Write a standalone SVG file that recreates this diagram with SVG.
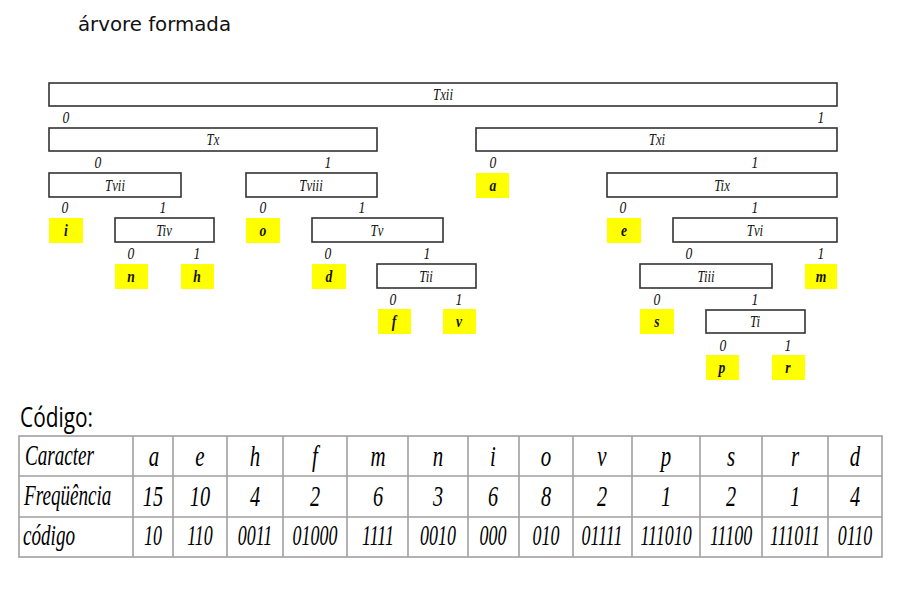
<svg xmlns="http://www.w3.org/2000/svg" width="913" height="606" viewBox="0 0 913 606">
<style>
.box{fill:#fff;stroke:#333;stroke-width:1.6}
.leaf{fill:#ffff00;stroke:none}
.t{font-family:"Liberation Serif",serif;font-style:italic;font-size:17px;fill:#111;text-anchor:middle}
.lt{font-weight:bold}
.tb{font-family:"Liberation Serif",serif;font-style:italic;font-size:29px;fill:#000;text-anchor:middle}
.tl{text-anchor:start}
.grid{stroke:#a0a0a0;stroke-width:1.6;fill:none}
</style>
<rect width="913" height="606" fill="#fff"/>
<text x="78" y="31" font-family="'DejaVu Sans',sans-serif" font-size="19" textLength="153" lengthAdjust="spacingAndGlyphs" fill="#111">árvore formada</text>

<!-- internal nodes -->
<g id="Txii"><rect class="box" x="49" y="83" width="788" height="23"/><text class="t" transform="translate(443,100) scale(0.75,1)">Txii</text></g>
<g id="Tx"><rect class="box" x="49" y="128" width="328" height="23"/><text class="t" transform="translate(213,145) scale(0.75,1)">Tx</text></g>
<g id="Txi"><rect class="box" x="476" y="128" width="361" height="23"/><text class="t" transform="translate(657,145) scale(0.75,1)">Txi</text></g>
<g id="Tvii"><rect class="box" x="49" y="173" width="132" height="24"/><text class="t" transform="translate(115,191) scale(0.75,1)">Tvii</text></g>
<g id="Tviii"><rect class="box" x="246" y="173" width="131" height="24"/><text class="t" transform="translate(311,191) scale(0.75,1)">Tviii</text></g>
<g id="Tix"><rect class="box" x="607" y="173" width="230" height="24"/><text class="t" transform="translate(722,191) scale(0.75,1)">Tix</text></g>
<g id="Tiv"><rect class="box" x="115" y="218" width="99" height="24"/><text class="t" transform="translate(164,236) scale(0.75,1)">Tiv</text></g>
<g id="Tv"><rect class="box" x="312" y="218" width="131" height="24"/><text class="t" transform="translate(377,236) scale(0.75,1)">Tv</text></g>
<g id="Tvi"><rect class="box" x="673" y="218" width="164" height="24"/><text class="t" transform="translate(755,236) scale(0.75,1)">Tvi</text></g>
<g id="Tii"><rect class="box" x="377" y="264" width="99" height="24"/><text class="t" transform="translate(426,282) scale(0.75,1)">Tii</text></g>
<g id="Tiii"><rect class="box" x="640" y="264" width="132" height="24"/><text class="t" transform="translate(706,282) scale(0.75,1)">Tiii</text></g>
<g id="Ti"><rect class="box" x="706" y="310" width="99" height="23"/><text class="t" transform="translate(755,327) scale(0.75,1)">Ti</text></g>

<!-- leaves -->
<g id="leaf-a"><rect class="leaf" x="476" y="173" width="33" height="25"/><text class="t lt" transform="translate(493,191) scale(0.8,1)">a</text></g>
<g id="leaf-i"><rect class="leaf" x="49" y="218" width="34" height="25"/><text class="t lt" transform="translate(66,236) scale(0.8,1)">i</text></g>
<g id="leaf-o"><rect class="leaf" x="246" y="218" width="34" height="25"/><text class="t lt" transform="translate(263,236) scale(0.8,1)">o</text></g>
<g id="leaf-e"><rect class="leaf" x="607" y="218" width="34" height="25"/><text class="t lt" transform="translate(624,236) scale(0.8,1)">e</text></g>
<g id="leaf-n"><rect class="leaf" x="115" y="264" width="33" height="25"/><text class="t lt" transform="translate(131,282) scale(0.8,1)">n</text></g>
<g id="leaf-h"><rect class="leaf" x="181" y="264" width="33" height="25"/><text class="t lt" transform="translate(197,282) scale(0.8,1)">h</text></g>
<g id="leaf-d"><rect class="leaf" x="312" y="264" width="34" height="25"/><text class="t lt" transform="translate(329,282) scale(0.8,1)">d</text></g>
<g id="leaf-m"><rect class="leaf" x="805" y="264" width="32" height="25"/><text class="t lt" transform="translate(821,282) scale(0.8,1)">m</text></g>
<g id="leaf-f"><rect class="leaf" x="378" y="309" width="33" height="25"/><text class="t lt" transform="translate(394,327) scale(0.8,1)">f</text></g>
<g id="leaf-v"><rect class="leaf" x="443" y="309" width="33" height="25"/><text class="t lt" transform="translate(459,327) scale(0.8,1)">v</text></g>
<g id="leaf-s"><rect class="leaf" x="640" y="309" width="34" height="25"/><text class="t lt" transform="translate(657,327) scale(0.8,1)">s</text></g>
<g id="leaf-p"><rect class="leaf" x="706" y="355" width="33" height="25"/><text class="t lt" transform="translate(722,373) scale(0.8,1)">p</text></g>
<g id="leaf-r"><rect class="leaf" x="772" y="355" width="33" height="25"/><text class="t lt" transform="translate(788,373) scale(0.8,1)">r</text></g>

<!-- edge labels (bits) -->
<g id="edges">
<text class="t" transform="translate(66,123) scale(0.8,1)">0</text>
<text class="t" transform="translate(821,123) scale(0.8,1)">1</text>
<text class="t" transform="translate(98,168) scale(0.8,1)">0</text>
<text class="t" transform="translate(328,168) scale(0.8,1)">1</text>
<text class="t" transform="translate(493,168) scale(0.8,1)">0</text>
<text class="t" transform="translate(755,168) scale(0.8,1)">1</text>
<text class="t" transform="translate(65,213) scale(0.8,1)">0</text>
<text class="t" transform="translate(163,213) scale(0.8,1)">1</text>
<text class="t" transform="translate(263,213) scale(0.8,1)">0</text>
<text class="t" transform="translate(362,213) scale(0.8,1)">1</text>
<text class="t" transform="translate(623,213) scale(0.8,1)">0</text>
<text class="t" transform="translate(755,213) scale(0.8,1)">1</text>
<text class="t" transform="translate(131,259) scale(0.8,1)">0</text>
<text class="t" transform="translate(197,259) scale(0.8,1)">1</text>
<text class="t" transform="translate(328,259) scale(0.8,1)">0</text>
<text class="t" transform="translate(427,259) scale(0.8,1)">1</text>
<text class="t" transform="translate(689,259) scale(0.8,1)">0</text>
<text class="t" transform="translate(821,259) scale(0.8,1)">1</text>
<text class="t" transform="translate(393,305) scale(0.8,1)">0</text>
<text class="t" transform="translate(459,305) scale(0.8,1)">1</text>
<text class="t" transform="translate(657,305) scale(0.8,1)">0</text>
<text class="t" transform="translate(755,305) scale(0.8,1)">1</text>
<text class="t" transform="translate(723,351) scale(0.8,1)">0</text>
<text class="t" transform="translate(788,351) scale(0.8,1)">1</text>
</g>

<!-- Código table -->
<text x="20" y="427" font-family="'Open Sans',sans-serif" font-size="28" textLength="73" lengthAdjust="spacingAndGlyphs" fill="#000">Código:</text>
<g id="table">
<rect class="grid" x="19" y="436" width="863" height="121"/>
<path class="grid" d="M19 476H882M19 517H882M133 436V557M173 436V557M227 436V557M283 436V557M347 436V557M408 436V557M468 436V557M519 436V557M573 436V557M632 436V557M700 436V557M762 436V557M828 436V557"/>
<text class="tb tl" transform="translate(25,465) scale(0.66,1)">Caracter</text>
<text class="tb tl" transform="translate(24,505) scale(0.66,1)">Freqüência</text>
<text class="tb tl" transform="translate(23,545) scale(0.66,1)">código</text>
<g transform="translate(0,466)">
<text class="tb" transform="translate(154,0) scale(0.72,1)">a</text>
<text class="tb" transform="translate(200,0) scale(0.72,1)">e</text>
<text class="tb" transform="translate(255,0) scale(0.72,1)">h</text>
<text class="tb" transform="translate(315,0) scale(0.72,1)">f</text>
<text class="tb" transform="translate(378,0) scale(0.72,1)">m</text>
<text class="tb" transform="translate(438,0) scale(0.72,1)">n</text>
<text class="tb" transform="translate(493,0) scale(0.72,1)">i</text>
<text class="tb" transform="translate(546,0) scale(0.72,1)">o</text>
<text class="tb" transform="translate(602,0) scale(0.72,1)">v</text>
<text class="tb" transform="translate(666,0) scale(0.72,1)">p</text>
<text class="tb" transform="translate(731,0) scale(0.72,1)">s</text>
<text class="tb" transform="translate(795,0) scale(0.72,1)">r</text>
<text class="tb" transform="translate(855,0) scale(0.72,1)">d</text>
</g>
<g transform="translate(0,506)">
<text class="tb" transform="translate(153,0) scale(0.7,1)">15</text>
<text class="tb" transform="translate(200,0) scale(0.7,1)">10</text>
<text class="tb" transform="translate(255,0) scale(0.7,1)">4</text>
<text class="tb" transform="translate(315,0) scale(0.7,1)">2</text>
<text class="tb" transform="translate(378,0) scale(0.7,1)">6</text>
<text class="tb" transform="translate(438,0) scale(0.7,1)">3</text>
<text class="tb" transform="translate(493,0) scale(0.7,1)">6</text>
<text class="tb" transform="translate(546,0) scale(0.7,1)">8</text>
<text class="tb" transform="translate(602,0) scale(0.7,1)">2</text>
<text class="tb" transform="translate(666,0) scale(0.7,1)">1</text>
<text class="tb" transform="translate(731,0) scale(0.7,1)">2</text>
<text class="tb" transform="translate(795,0) scale(0.7,1)">1</text>
<text class="tb" transform="translate(855,0) scale(0.7,1)">4</text>
</g>
<g transform="translate(0,545)">
<text class="tb" transform="translate(153,0) scale(0.62,1)">10</text>
<text class="tb" transform="translate(200,0) scale(0.62,1)">110</text>
<text class="tb" transform="translate(255,0) scale(0.62,1)">0011</text>
<text class="tb" transform="translate(315,0) scale(0.62,1)">01000</text>
<text class="tb" transform="translate(378,0) scale(0.62,1)">1111</text>
<text class="tb" transform="translate(438,0) scale(0.62,1)">0010</text>
<text class="tb" transform="translate(493,0) scale(0.62,1)">000</text>
<text class="tb" transform="translate(546,0) scale(0.62,1)">010</text>
<text class="tb" transform="translate(602,0) scale(0.62,1)">01111</text>
<text class="tb" transform="translate(666,0) scale(0.62,1)">111010</text>
<text class="tb" transform="translate(731,0) scale(0.62,1)">11100</text>
<text class="tb" transform="translate(795,0) scale(0.62,1)">111011</text>
<text class="tb" transform="translate(855,0) scale(0.62,1)">0110</text>
</g>
</g>
</svg>
